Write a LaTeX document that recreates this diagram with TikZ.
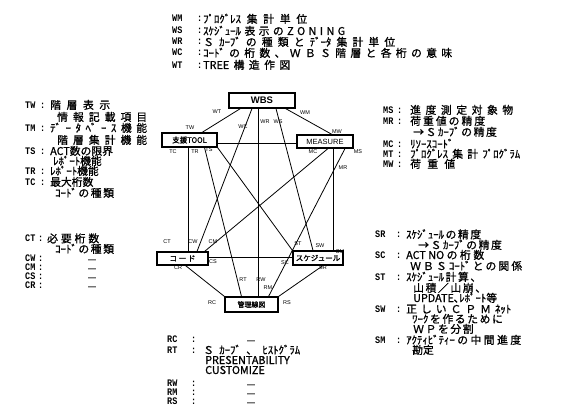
\documentclass[tikz,border=0pt]{standalone}
\usepackage{fontspec}
\usepackage{graphicx}
\setmainfont{Noto Sans CJK JP}
\newfontfamily\jpfont{Noto Sans CJK JP}[FakeBold=1]
\newfontfamily\boxjp{Noto Sans CJK JP}[FakeBold=1.5]
\newfontfamily\cdfont{Liberation Mono}
\newfontfamily\labfont{Liberation Sans}
\newcommand\jp{\jpfont\fontsize{10.8}{12}\selectfont}
\newcommand\sx[2]{\makebox[#1pt][s]{#2}}
\newcommand\cds[1]{\scalebox{0.85}[1]{\bfseries #1}}
\newcommand\dsh{{\labfont\bfseries\fontsize{8}{8}\selectfont —}}
\newcommand\mrow[7]{%
  \node[cd] (c#1) at (#2,#5) {\cds{#6}};
  \node[cd] (k#1) at (#3,#5) {\cds{:}};
  \node[txt] (t#1) at (#4,#5) {#7};}
\begin{document}
\begin{tikzpicture}[x=1pt,y=-1pt,
  txt/.style={anchor=west,inner sep=0pt,text height=8pt,text depth=0pt,font=\jp},
  cd/.style={anchor=west,inner sep=0pt,text height=6pt,text depth=0pt,font=\cdfont\fontsize{10}{11}\selectfont},
  lab/.style={inner sep=0pt,font=\labfont\fontsize{5.5}{6}\selectfont},
  box/.style={draw,line width=1.1pt,inner sep=0pt},
  edge/.style={line width=0.8pt}]
\useasboundingbox (0,0) rectangle (570,420);
% ---- top block
\mrow{WM}{172}{197}{203}{19}{WM}{\sx{104}{ﾌﾟﾛｸﾞﾚｽ 集 計 単 位}}
\mrow{WS}{172}{197}{203}{31}{WS}{\sx{142}{ｽｹｼﾞｭｰﾙ 表 示 の Z O N I N G}}
\mrow{WR}{172}{197}{203}{42}{WR}{\sx{192}{Ｓ ｶｰﾌﾞ の 種 類 と ﾃﾞｰﾀ 集 計 単 位}}
\mrow{WC}{172}{197}{203}{53}{WC}{\sx{249}{ｺｰﾄﾞ の 桁 数 、 Ｗ Ｂ Ｓ 階 層 と 各 桁 の 意 味}}
\mrow{WT}{172}{197}{203}{65}{WT}{\sx{87}{TREE 構 造 作 図}}
% ---- left upper block
\mrow{TW}{25}{40}{50}{105}{TW}{\sx{60}{階 層 表 示}}
\node[txt] (tTW2) at (57,117) {\sx{90}{情 報 記 載 項 目}};
\mrow{TM}{25}{40}{50}{128}{TM}{\sx{97}{ﾃﾞ ｰ ﾀ ﾍﾞ ｰ ｽ 機 能}}
\node[txt] (tTM2) at (57,140) {\sx{90}{階 層 集 計 機 能}};
\mrow{TS}{25}{40}{50}{151}{TS}{ACT数の限界}
\node[txt] (tTS2) at (53,161) {ﾚﾎﾟｰﾄ機能};
\mrow{TR}{25}{40}{50}{171}{TR}{ﾚﾎﾟｰﾄ機能}
\mrow{TC}{25}{40}{50}{182}{TC}{最大桁数}
\node[txt] (tTC2) at (55,193) {\sx{58}{ｺｰﾄﾞ の 種 類}};
% ---- left lower block
\mrow{CT}{25}{38}{47}{238.5}{CT}{\sx{52}{必 要 桁 数}}
\node[txt] (tCT2) at (55,249) {\sx{58}{ｺｰﾄﾞ の 種 類}};
\mrow{CW}{25}{38}{88}{258}{CW}{\dsh}
\mrow{CM}{25}{38}{88}{267}{CM}{\dsh}
\mrow{CS}{25}{38}{88}{276}{CS}{\dsh}
\mrow{CR}{25}{38}{88}{285}{CR}{\dsh}
% ---- right upper block
\mrow{MS}{383}{397}{410}{110}{MS}{\sx{103}{進 度 測 定 対 象 物}}
\mrow{MR}{383}{397}{410}{121}{MR}{\sx{75}{荷 重 値 の 精 度}}
\node[txt] (tMR2) at (413,132) {\sx{80}{→ Ｓ ｶｰﾌﾞ の 精 度}};
\mrow{MC}{383}{397}{410}{144}{MC}{ﾘｿｰｽｺｰﾄﾞ}
\mrow{MT}{383}{397}{410}{154}{MT}{\sx{110}{ﾌﾟﾛｸﾞﾚｽ 集 計 ﾌﾟﾛｸﾞﾗﾑ}}
\mrow{MW}{383}{397}{410}{164}{MW}{\sx{45}{荷 重 値}}
% ---- right lower block
\mrow{SR}{375}{396}{406}{234.5}{SR}{\sx{75}{ｽｹｼﾞｭｰﾙ の 精 度}}
\node[txt] (tSR2) at (418,245) {\sx{82}{→ Ｓ ｶｰﾌﾞ の 精 度}};
\mrow{SC}{375}{396}{406}{255}{SC}{\sx{78}{ACT NO の 桁 数}}
\node[txt] (tSC2) at (410,266) {\sx{112}{Ｗ Ｂ Ｓ ｺｰﾄﾞ と の 関 係}};
\mrow{ST}{375}{396}{406}{277}{ST}{\sx{73}{ｽｹｼﾞｭｰﾙ 計 算 、}}
\node[txt] (tST2) at (413,288) {\sx{69}{山 積 ／ 山 崩 、}};
\node[txt] (tST3) at (413,298) {UPDATE､ﾚﾎﾟｰﾄ等};
\mrow{SW}{375}{396}{406}{309}{SW}{\sx{105}{正 し い Ｃ Ｐ Ｍ ﾈｯﾄ}}
\node[txt] (tSW2) at (412,319) {\sx{86}{ﾜｰｸ を 作 る た め に}};
\node[txt] (tSW3) at (413,329) {\sx{57}{Ｗ Ｐ を 分 割}};
\mrow{SM}{375}{396}{406}{340}{SM}{\sx{115}{ｱｸﾃｨﾋﾞﾃｨｰ の 中 間 進 度}}
\node[txt] (tSM2) at (412,350) {勘定};
% ---- bottom block
\mrow{RC}{167}{191}{247}{339}{RC}{\dsh}
\mrow{RT}{167}{191}{203}{350}{RT}{\sx{97}{Ｓ ｶｰﾌﾞ 、 ﾋｽﾄｸﾞﾗﾑ}}
\node[txt] (tRT2) at (205,360) {PRESENTABILITY};
\node[txt] (tRT3) at (205,370) {CUSTOMIZE};
\mrow{RW}{167}{191}{247}{383}{RW}{\dsh}
\mrow{RM}{167}{191}{247}{392}{RM}{\dsh}
\mrow{RS}{167}{191}{247}{401}{RS}{\dsh}
% ---- boxes
\node[box,minimum width=66pt,minimum height=15pt,font=\labfont\bfseries\fontsize{9.5}{12}\selectfont] (wbs) at (262,100.5) {WBS};
\node[box,minimum width=55pt,minimum height=14pt,font=\boxjp\fontsize{7.5}{9}\selectfont] (tool) at (189.5,140) {支援TOOL};
\node[box,minimum width=56pt,minimum height=13pt,font=\labfont\fontsize{7.5}{9}\selectfont] (meas) at (325,141.5) {MEASURE};
\node[box,minimum width=51pt,minimum height=13pt,font=\boxjp\fontsize{7.5}{9}\selectfont] (code) at (182.5,258.5) {コ ー ド};
\node[box,minimum width=50pt,minimum height=14pt,font=\boxjp\fontsize{7.5}{9}\selectfont] (sch) at (318,258) {スケジュール};
\node[box,minimum width=53pt,minimum height=15pt,font=\boxjp\fontsize{7}{9}\selectfont] (kanri) at (251.5,304.5) {管理線図};
% ---- connectors
\draw[edge] ([xshift=12pt]wbs.south west) -- ([xshift=12.5pt]tool.north);
\draw[edge] ([xshift=-10pt]wbs.south east) -- ([xshift=7pt]meas.north);
\draw[edge] ([xshift=-10pt]wbs.south) -- ([xshift=14.5pt]code.north);
\draw[edge] ([xshift=-4pt]wbs.south) -- ([xshift=-4pt]wbs.south |- kanri.north);
\draw[edge] ([xshift=14pt]wbs.south) -- ([xshift=-5pt]sch.north);
\draw[edge] ([yshift=-3pt]tool.east) -- ([yshift=-3pt]tool.east -| meas.west);
\draw[edge] (tool.south east) -- (sch.north west);
\draw[edge] ([xshift=15pt]tool.south) -- ([xshift=-10pt]kanri.north);
\draw[edge] ([xshift=-1.5pt]tool.south) -- ([xshift=-1.5pt]tool.south |- code.north);
\draw[edge] ([xshift=3pt]meas.south) -- ([xshift=-4pt]code.north east);
\draw[edge] ([xshift=20pt]meas.south) -- ([xshift=-10pt]kanri.north east);
\draw[edge] ([xshift=8pt]meas.south) -- ([xshift=8pt]meas.south |- sch.north);
\draw[edge] ([yshift=1.5pt]code.east) -- ([yshift=1.5pt]code.east -| sch.west);
\draw[edge] ([xshift=3pt]code.south) -- (kanri.north west);
\draw[edge] ([xshift=5pt]sch.south) -- (kanri.north east);
% ---- connector labels
\node[lab] (lWT) at (217,112) {WT};
\node[lab] (lWM) at (305,113) {WM};
\node[lab] (lWC) at (243,127) {WC};
\node[lab] (lWR) at (265,122) {WR};
\node[lab] (lWS) at (278,122) {WS};
\node[lab] (lTW) at (190,128) {TW};
\node[lab] (lMW) at (337,132) {MW};
\node[lab] (lTC) at (173,152) {TC};
\node[lab] (lTR) at (195,152) {TR};
\node[lab] (lTS) at (209,150) {TS};
\node[lab] (lMC) at (313,152) {MC};
\node[lab] (lMR) at (343,168) {MR};
\node[lab] (lMS) at (358,152) {MS};
\node[lab] (lCT) at (167,242) {CT};
\node[lab] (lCW) at (193,242) {CW};
\node[lab] (lCM) at (213,242) {CM};
\node[lab] (lCS) at (213,262) {CS};
\node[lab] (lCR) at (178,268) {CR};
\node[lab] (lST) at (298,244) {ST};
\node[lab] (lSW) at (320,246) {SW};
\node[lab] (lSM) at (340,252) {SM};
\node[lab] (lSC) at (285,263) {SC};
\node[lab] (lSR) at (323,268) {SR};
\node[lab] (lRT) at (243,280) {RT};
\node[lab] (lRW) at (261,280) {RW};
\node[lab] (lRM) at (268,288) {RM};
\node[lab] (lRC) at (212,303) {RC};
\node[lab] (lRS) at (287,303) {RS};
\end{tikzpicture}
\end{document}
